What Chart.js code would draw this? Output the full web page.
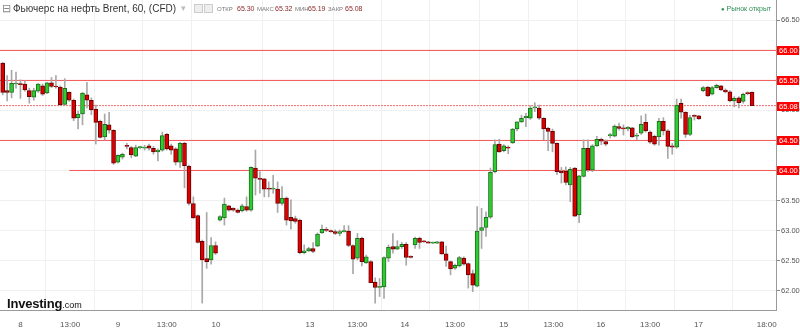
<!DOCTYPE html>
<html>
<head>
<meta charset="utf-8">
<script src="https://cdn.jsdelivr.net/npm/chart.js@4.4.1/dist/chart.umd.min.js"></script>
<style>
  html, body { margin: 0; padding: 0; background: #fff; }
  #wrap { position: relative; width: 800px; height: 332px; font-family: Arial, "Liberation Sans", sans-serif; }
  #chart { position: absolute; left: 0; top: 0; }
  .abs { position: absolute; white-space: nowrap; line-height: 1; }
  .title { font-size: 10px; color: #333; }
  .lbl { font-size: 6px; color: #777; }
  .val { font-size: 7px; color: #8a2a2a; }
  .btn { width: 7px; height: 7px; border: 1px solid #ccc; background: #eee; }
  #logo { left: 7px; top: 297px; font-size: 13px; font-weight: bold; color: #111; letter-spacing: -0.2px; }
  #logo span { font-size: 9px; font-weight: normal; letter-spacing: 0; }
</style>
</head>
<body>
<div id="wrap">
  <canvas id="chart" width="800" height="332"></canvas>
  <div class="abs" style="left:2px;top:3px;font-size:11px;color:#888">⊟</div>
  <div class="abs title" style="left:13px;top:4px">Фьючерс на нефть Brent, 60, (CFD)</div>
  <div class="abs" style="left:181px;top:4px;font-size:9px;color:#bbb">▾</div>
  <div class="abs btn" style="left:194px;top:4px"></div>
  <div class="abs btn" style="left:204px;top:4px"></div>
  <div class="abs lbl" style="left:217px;top:6px">ОТКР</div>
  <div class="abs val" style="left:237px;top:5px">65.30</div>
  <div class="abs lbl" style="left:257px;top:6px">МАКС</div>
  <div class="abs val" style="left:275px;top:5px">65.32</div>
  <div class="abs lbl" style="left:295px;top:6px">МИН</div>
  <div class="abs val" style="left:308px;top:5px">65.19</div>
  <div class="abs lbl" style="left:328px;top:6px">ЗАКР</div>
  <div class="abs val" style="left:345px;top:5px">65.08</div>
  <div class="abs" style="left:721px;top:5px;font-size:7px;color:#2f8f55"><span style="font-size:6px">●</span> Рынок открыт</div>
  <div class="abs" id="logo">Investing<span>.com</span></div>
</div>
<script>
// hourly candles, one entry per bar
const opens = [65.79,65.33,65.30,65.44,65.44,65.44,65.33,65.22,65.32,65.41,65.29,65.46,65.40,65.39,65.10,65.30,65.17,64.88,64.94,65.26,
  65.17,65.02,64.82,64.56,64.76,64.67,64.14,64.22,64.41,64.38,64.24,64.38,64.37,64.41,64.37,64.31,64.34,64.60,64.41,64.36,
  64.14,64.45,64.07,63.45,63.25,62.82,62.53,62.51,62.75,63.17,63.21,63.41,63.37,63.34,63.33,63.40,63.34,64.04,63.87,63.86,
  63.70,63.69,63.69,63.45,63.54,63.22,63.20,63.17,62.63,62.66,62.70,62.74,62.96,63.02,63.00,62.98,62.95,62.98,62.99,62.75,
  62.54,62.87,62.46,62.48,62.14,62.05,62.06,62.54,62.73,62.69,62.73,62.77,62.57,62.76,62.87,62.82,62.81,62.79,62.79,62.81,
  62.61,62.48,62.37,62.41,62.54,62.45,62.28,62.07,63.00,63.05,63.22,63.98,64.44,64.33,64.39,64.46,64.69,64.81,64.88,64.87,
  65.04,65.04,64.87,64.70,64.65,64.45,63.99,63.99,63.76,64.04,63.26,63.90,64.37,64.01,64.41,64.52,64.48,64.58,64.57,64.73,
  64.71,64.69,64.71,64.57,64.62,64.80,64.64,64.57,64.56,64.82,64.66,64.41,64.39,65.12,64.97,64.60,64.91,64.91,65.33,65.39,
  65.27,65.38,65.41,65.34,65.31,65.16,65.21,65.15,65.29,65.30];
const highs = [65.80,65.58,65.67,65.64,65.51,65.49,65.37,65.37,65.45,65.44,65.47,65.55,65.58,65.41,65.53,65.31,65.19,64.99,65.30,65.47,
  65.21,65.09,64.84,64.94,64.97,64.68,64.26,64.29,64.45,64.40,64.42,64.40,64.42,64.44,64.40,64.36,64.64,64.62,64.44,64.38,
  64.47,64.47,64.09,63.56,63.26,62.84,63.30,62.88,62.81,63.25,63.54,63.42,63.38,63.36,63.44,63.56,64.06,64.34,63.98,63.87,
  63.81,63.92,63.81,63.73,63.56,63.51,63.24,63.19,62.76,62.72,62.80,62.96,63.09,63.05,63.01,63.01,63.01,63.08,63.08,62.76,
  62.95,62.89,62.59,62.50,62.21,62.20,62.56,62.76,62.95,62.83,62.80,62.80,62.58,62.89,62.89,62.83,62.82,62.81,62.82,62.82,
  62.74,62.49,62.44,62.57,62.56,62.46,62.34,63.40,63.37,63.31,64.04,64.51,64.52,64.43,64.41,64.70,64.81,64.92,64.95,65.08,
  65.13,65.09,64.88,64.72,64.69,64.46,64.05,64.06,64.05,64.05,63.92,64.51,64.51,64.43,64.57,64.54,64.51,64.62,64.76,64.79,
  64.76,64.73,64.72,64.62,64.91,64.94,64.66,64.59,64.87,64.88,64.68,64.45,65.19,65.19,64.98,64.92,64.93,64.92,65.40,65.40,
  65.40,65.44,65.42,65.36,65.33,65.23,65.23,65.29,65.31,65.31];
const lows = [65.26,65.16,65.21,65.37,65.20,65.32,65.12,65.17,65.30,65.25,65.28,65.38,65.37,65.08,65.09,65.15,64.83,64.69,64.76,65.04,
  64.93,64.44,64.54,64.51,64.62,64.10,64.12,64.19,64.36,64.21,64.23,64.36,64.34,64.34,64.27,64.16,64.32,64.34,64.27,64.09,
  64.05,63.71,63.42,63.20,62.79,61.79,62.37,62.44,62.60,63.16,63.09,63.32,63.32,63.29,63.31,63.32,63.32,63.59,63.62,63.56,
  63.56,63.62,63.30,63.42,63.09,63.02,63.12,62.61,62.61,62.65,62.63,62.73,62.95,62.98,62.97,62.93,62.91,62.97,62.73,62.28,
  62.51,62.41,62.45,62.13,61.79,61.90,61.87,62.48,62.62,62.68,62.70,62.42,62.54,62.70,62.70,62.80,62.79,62.78,62.78,62.60,
  62.40,62.26,62.35,62.39,62.42,62.04,61.98,62.06,62.70,62.90,63.20,63.96,64.30,64.31,64.28,64.45,64.66,64.80,64.73,64.85,
  64.98,64.85,64.51,64.33,64.31,63.93,63.79,63.76,63.48,63.23,63.13,63.89,63.98,63.98,64.40,64.43,64.41,64.54,64.56,64.67,
  64.59,64.66,64.55,64.51,64.60,64.64,64.45,64.42,64.42,64.59,64.20,64.27,64.37,64.87,64.55,64.58,64.84,64.85,65.31,65.23,
  65.26,65.37,65.33,65.29,65.14,65.06,65.04,65.12,65.26,65.08];
const closes = [65.30,65.30,65.45,65.44,65.43,65.34,65.23,65.33,65.44,65.27,65.46,65.40,65.39,65.09,65.37,65.17,64.87,64.94,65.29,65.17,
  65.01,64.80,64.55,64.77,64.67,64.12,64.25,64.27,64.40,64.26,64.38,64.38,64.39,64.37,64.31,64.34,64.58,64.36,64.34,64.14,
  64.45,64.08,63.45,63.21,62.80,62.51,62.48,62.75,62.62,63.23,63.44,63.34,63.34,63.30,63.41,63.34,64.05,63.87,63.85,63.69,
  63.69,63.69,63.45,63.54,63.17,63.16,63.15,62.63,62.66,62.70,62.65,62.94,63.02,63.00,62.98,62.95,62.98,63.00,62.75,62.52,
  62.87,62.48,62.56,62.13,62.05,62.07,62.55,62.72,62.69,62.73,62.77,62.55,62.55,62.87,62.80,62.81,62.79,62.80,62.81,62.61,
  62.50,62.36,62.42,62.55,62.44,62.26,62.09,62.99,63.05,63.22,63.97,64.43,64.31,64.41,64.37,64.69,64.81,64.87,64.90,65.04,
  65.06,64.87,64.69,64.65,64.45,63.98,63.96,63.80,64.02,63.24,63.91,64.37,64.01,64.41,64.52,64.49,64.44,64.59,64.74,64.70,
  64.69,64.72,64.56,64.58,64.77,64.66,64.47,64.44,64.82,64.66,64.40,64.39,65.09,64.97,64.60,64.88,64.90,64.86,65.38,65.24,
  65.38,65.42,65.34,65.31,65.16,65.20,65.13,65.27,65.28,65.08];

// x axis labels (position in bars from the first candle)
const tickPos = [4, 15.2, 26, 37, 48.1, 69.3, 80, 90.7, 102, 113, 124.2, 134.9, 146, 156.9, 172.3];
const tickText = ["8", "13:00", "9", "13:00", "10", "13", "13:00", "14", "13:00", "15", "13:00", "16", "13:00", "17", "18:00"];

// price axis
const yTicks = [62.0, 62.5, 63.0, 63.5, 64.0, 64.5, 65.0, 65.5, 66.0, 66.5];

// drawn horizontal levels and where each starts
const levelPrices = [66.0, 65.5, 64.5, 64.0];
const levelStart = [-1, -1, -1, 15];
const lastClose = 65.08;

const xMin = -0.61, xMax = 174.4;

const UP = "#2fcc2f", UP_EDGE = "#1f6e1f";
const DOWN = "#dd0000", DOWN_EDGE = "#6a0000";

const levelSets = levelPrices.map((p, k) => ({
  type: "line",
  data: [{ x: levelStart[k], y: p }, { x: xMax + 1, y: p }],
  borderColor: "#f25454",
  borderWidth: 1,
  pointRadius: 0,
  order: 3,
}));

const labelBoxes = {
  id: "labelBoxes",
  afterDraw(chart) {
    const ctx = chart.ctx, y = chart.scales.y;
    const boxes = levelPrices.concat([lastClose]);
    ctx.save();
    ctx.font = "7.5px Arial, 'Liberation Sans'";
    ctx.textBaseline = "middle";
    boxes.forEach(p => {
      const py = Math.round(y.getPixelForValue(p));
      ctx.fillStyle = "#ff0000";
      ctx.fillRect(777, py - 4, 22, 9);
      ctx.fillStyle = "#fff";
      ctx.fillText(p.toFixed(2), 779, py + 0.5);
    });
    ctx.restore();
  }
};

new Chart(document.getElementById("chart"), {
  type: "bar",
  data: {
    datasets: [
      {
        label: "body",
        data: opens.map((o, i) => ({ x: i, y: [o, closes[i]] })),
        backgroundColor: c => (closes[c.dataIndex] >= opens[c.dataIndex] ? UP : DOWN),
        borderColor: c => (closes[c.dataIndex] >= opens[c.dataIndex] ? UP_EDGE : DOWN_EDGE),
        borderWidth: 1,
        borderSkipped: false,
        barThickness: 4,
        minBarLength: 1,
        grouped: false,
        order: 0,
      },
      {
        label: "wick",
        data: opens.map((o, i) => ({ x: i, y: [lows[i], highs[i]] })),
        backgroundColor: "#a8a8a8",
        barThickness: 1,
        grouped: false,
        order: 1,
      },
      ...levelSets,
      {
        type: "line",
        data: [{ x: xMin, y: lastClose }, { x: xMax + 1, y: lastClose }],
        borderColor: "#f46a6a",
        borderWidth: 1,
        borderDash: [2, 1],
        pointRadius: 0,
        order: 2,
      },
    ],
  },
  options: {
    responsive: false,
    animation: false,
    layout: { padding: 0 },
    plugins: { legend: { display: false }, tooltip: { enabled: false } },
    scales: {
      x: {
        type: "linear",
        min: xMin,
        max: xMax,
        offset: false,
        afterBuildTicks: s => { s.ticks = tickPos.map(v => ({ value: v })); },
        afterFit: s => { s.height = 22; s.paddingLeft = 0; s.paddingRight = 0; },
        ticks: {
          autoSkip: false,
          maxRotation: 0,
          padding: 10,
          color: "#555",
          font: { family: "Arial, 'Liberation Sans'", size: 8 },
          callback: (v, i) => tickText[i],
        },
        grid: { color: "#f0f0f0", drawTicks: false },
        border: { color: "#9a9a9a" },
      },
      y: {
        position: "right",
        min: 61.675,
        max: 66.84,
        afterBuildTicks: s => { s.ticks = yTicks.map(v => ({ value: v })); },
        afterFit: s => { s.width = 24; s.paddingTop = 0; s.paddingBottom = 0; },
        ticks: {
          padding: 1,
          color: "#555",
          font: { family: "Arial, 'Liberation Sans'", size: 7.5 },
          callback: v => v.toFixed(2),
        },
        grid: { color: "#f0f0f0", tickLength: 4, tickColor: "#888" },
        border: { color: "#9a9a9a" },
      },
    },
  },
  plugins: [labelBoxes],
});
</script>
</body>
</html>
